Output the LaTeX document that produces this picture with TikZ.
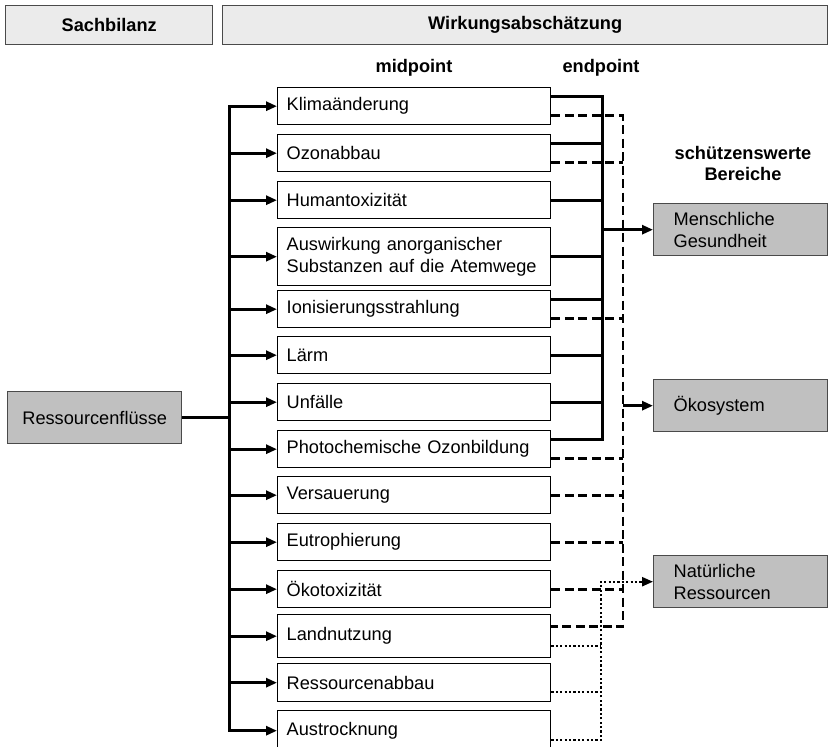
\documentclass[tikz,border=0pt]{standalone}
\usepackage{fontspec}
\setmainfont{Liberation Sans}
\usetikzlibrary{arrows.meta}

\definecolor{hdrgray}{HTML}{EBEBEB}
\definecolor{boxgray}{HTML}{C0C0C0}
\definecolor{frame}{HTML}{4A4A4A}

\begin{document}
\begin{tikzpicture}[x=1pt,y=-1pt,
  txt/.style={font=\fontsize{18.2}{22}\selectfont},
  bold/.style={font=\fontsize{18.2}{21}\selectfont\bfseries},
  hdr/.style={bold, draw=frame, line width=1.4pt, fill=hdrgray, anchor=north west,
    minimum height=39pt, inner sep=0pt},
  mbox/.style={txt, draw=black, line width=1.4pt, fill=white, anchor=north west,
    minimum height=37pt, text width=255pt, align=left, inner xsep=9pt, inner ysep=0pt},
  gbox/.style={txt, draw=frame, line width=1.4pt, fill=boxgray, anchor=north west,
    minimum height=52pt, text width=134pt, align=left, inner xsep=20pt, inner ysep=0pt},
  sol/.style={line width=3pt},
  trunk/.style={sol, line cap=rect},
  tip/.style={-{Triangle[length=11pt,width=9pt]}},
  arr/.style={sol, tip},
  dsh/.style={line width=2.8pt, dash pattern=on 9pt off 4.5pt},
  dot/.style={line width=2.3pt, dash pattern=on 2.2pt off 2.2pt},
  up/.style={yshift=9.5pt},
  dn/.style={yshift=-9.5pt}
]
\useasboundingbox (0,0) rectangle (828,747);

% column headers
\node[hdr, minimum width=207pt] (sach) at (5,5) {Sachbilanz};
\node[hdr, minimum width=605pt] (wirk) at (222,5) {Wirkungsabschätzung};
\node[bold] (mid) at (414,68) {midpoint};
\node[bold] (endp) at (601,68) {endpoint};
\node[bold, align=center] (schutz) at (743,163) {schützenswerte\\Bereiche};

% inventory box
\node[txt, draw=frame, line width=1.4pt, fill=boxgray, anchor=north west,
  minimum width=174pt, minimum height=52pt, inner sep=0pt] (res) at (7,391) {Ressourcenflüsse};

% midpoint categories
\node[mbox] (k1)  at (277,87)  {Klimaänderung};
\node[mbox] (k2)  at (277,134) {Ozonabbau};
\node[mbox] (k3)  at (277,181) {Humantoxizität};
\node[mbox, minimum height=58pt] (k4) at (277,227) {Auswirkung anorganischer\\Substanzen auf die Atemwege};
\node[mbox] (k5)  at (277,290) {Ionisierungsstrahlung};
\node[mbox] (k6)  at (277,336) {Lärm};
\node[mbox] (k7)  at (277,383) {Unfälle};
\node[mbox] (k8)  at (277,430) {Photochemische Ozonbildung};
\node[mbox] (k9)  at (277,476) {Versauerung};
\node[mbox] (k10) at (277,523) {Eutrophierung};
\node[mbox] (k11) at (277,570) {Ökotoxizität};
\node[mbox, minimum height=43pt] (k12) at (277,614) {Landnutzung};
\node[mbox, minimum height=38pt] (k13) at (277,663) {Ressourcenabbau};
\node[mbox, minimum height=40pt] (k14) at (277,710) {Austrocknung};

% protection areas
\node[gbox] (mg) at (653,203) {Menschliche\\Gesundheit};
\node[gbox] (oe) at (653,379) {Ökosystem};
\node[gbox] (nr) at (653,555) {Natürliche\\Ressourcen};

% bus positions
\coordinate (busL) at (229,0);
\coordinate (busS) at (602,0);
\coordinate (busD) at (623,0);
\coordinate (busT) at (601,0);

% inventory to categories
\draw[sol] (res.east) -- (res.east -| busL);
\draw[trunk] (k1.west -| busL) -- (k14.west -| busL);
\foreach \k in {k1,k2,k3,k4,k5,k6,k7,k8,k9,k10,k11,k12,k13,k14}
  \draw[arr] (\k.west -| busL) -- (\k.west);

% human health (solid)
\draw[trunk] ([up]k1.east -| busS) -- ([up]k8.east -| busS);
\foreach \k in {k1,k2,k5,k8}
  \draw[sol] ([up]\k.east) -- ([up]\k.east -| busS);
\foreach \k in {k3,k4,k6,k7}
  \draw[sol] (\k.east) -- (\k.east -| busS);
\draw[arr] (busS |- mg.west) -- (mg.west);

% ecosystem (dashed)
\draw[dsh] ([dn]k1.east) -- ([dn]k1.east -| busD) -- ([up]k12.east -| busD) -- ([up]k12.east);
\foreach \k in {k2,k5,k8}
  \draw[dsh] ([dn]\k.east) -- ([dn]\k.east -| busD);
\foreach \k in {k9,k10,k11}
  \draw[dsh] (\k.east) -- (\k.east -| busD);
\draw[arr] (busD |- oe.west) -- (oe.west);

% natural resources (dotted)
\draw[dot, tip] ([dn]k14.east) -- ([dn]k14.east -| busT)
  -- (busT |- nr.west) -- (nr.west);
\foreach \k in {k12,k13}
  \draw[dot] ([dn]\k.east) -- ([dn]\k.east -| busT);
\end{tikzpicture}
\end{document}
